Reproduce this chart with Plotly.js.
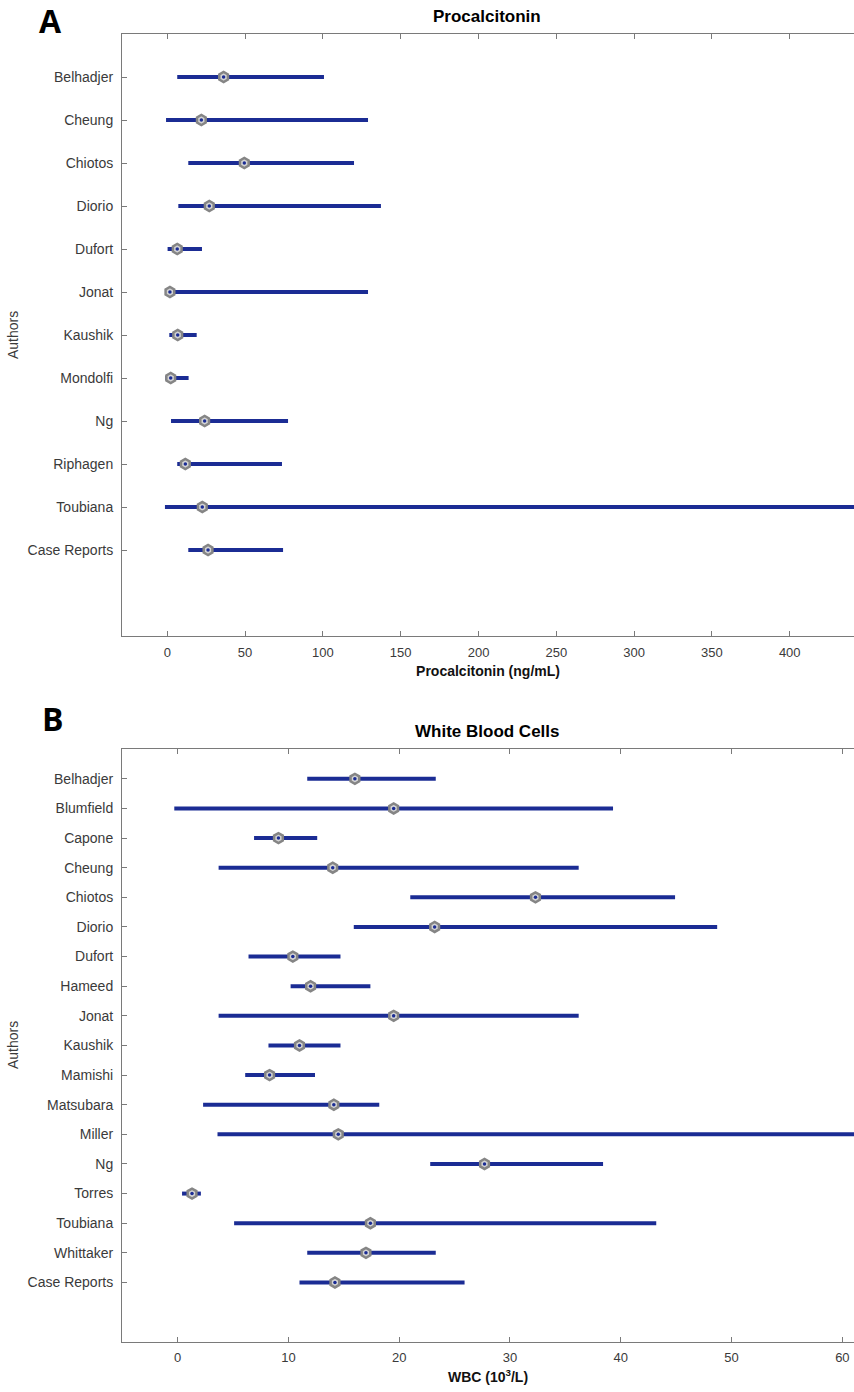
<!DOCTYPE html>
<html>
<head>
<meta charset="utf-8">
<script src="https://cdn.plot.ly/plotly-3.0.1.min.js"></script>
<style>html,body{margin:0;padding:0;background:#fff;}#chart{width:854px;height:1392px;}</style>
</head>
<body>
<div id="chart"></div>
<script>
// Panel A: Procalcitonin (ng/mL)
const catsA = ["Belhadjer","Cheung","Chiotos","Diorio","Dufort","Jonat","Kaushik","Mondolfi","Ng","Riphagen","Toubiana","Case Reports"];
const lowA  = [6.4, -0.8, 13.5, 7.1, 0.2, -1.0, 1.3, -1.3, 2.4, 6.4, -1.5, 13.5];
const medA  = [36.2, 21.9, 49.5, 27.0, 6.4, 1.7, 6.7, 2.2, 24.0, 11.6, 22.5, 26.2];
const highA = [100.7, 129.0, 120.0, 137.3, 22.3, 129.0, 18.9, 13.7, 77.6, 73.7, 480.0, 74.4];
const ticksA = [0, 50, 100, 150, 200, 250, 300, 350, 400];

// Panel B: White blood cells (10^3/L)
const catsB = ["Belhadjer","Blumfield","Capone","Cheung","Chiotos","Diorio","Dufort","Hameed","Jonat","Kaushik","Mamishi","Matsubara","Miller","Ng","Torres","Toubiana","Whittaker","Case Reports"];
const lowB  = [11.7, -0.3, 6.9, 3.7, 21.0, 15.9, 6.4, 10.2, 3.7, 8.2, 6.1, 2.3, 3.6, 22.8, 0.4, 5.1, 11.7, 11.0];
const medB  = [16.0, 19.5, 9.1, 14.0, 32.3, 23.2, 10.4, 12.0, 19.5, 11.0, 8.3, 14.1, 14.5, 27.7, 1.3, 17.4, 17.0, 14.2];
const highB = [23.3, 39.3, 12.6, 36.2, 44.9, 48.7, 14.7, 17.4, 36.2, 14.7, 12.4, 18.2, 70.0, 38.4, 2.1, 43.2, 23.3, 25.9];
const ticksB = [0, 10, 20, 30, 40, 50, 60];

const H = 1392, W = 854, L = 122;
const py = p => 1 - p / H;          // pixel row -> paper y
const px = p => (p - L) / (W - L);  // pixel col -> paper x

const lineCol = '#1b2c94';
const font = 'Liberation Sans, Arial, sans-serif';

function traces(cats, low, med, high, xa, ya) {
  const pos = cats.map((c, i) => i + 1);
  return [
    {
      type: 'scatter', mode: 'markers', x: med, y: pos, xaxis: xa, yaxis: ya,
      error_x: {
        type: 'data', symmetric: false,
        array: high.map((h, i) => h - med[i]),
        arrayminus: low.map((l, i) => med[i] - l),
        color: lineCol, thickness: 4, width: 0
      },
      marker: { symbol: 'hexagon', size: 10, color: '#d4d4d4', line: { color: '#858585', width: 2.5 } },
      hoverinfo: 'x+y', showlegend: false
    },
    {
      type: 'scatter', mode: 'markers', x: med, y: pos, xaxis: xa, yaxis: ya,
      marker: { size: 3.5, color: lineCol }, hoverinfo: 'skip', showlegend: false
    }
  ];
}

const data = [
  ...traces(catsA, lowA, medA, highA, 'x', 'y'),
  ...traces(catsB, lowB, medB, highB, 'x2', 'y2')
];

const axisCommon = {
  showline: true, linecolor: '#7a7a7a', linewidth: 1,
  ticks: 'inside', ticklen: 5, tickcolor: '#7a7a7a',
  showgrid: false, zeroline: false, fixedrange: true
};
const xFont = { family: font, size: 13, color: '#3a3a3a' };
const yFont = { family: font, size: 14, color: '#3a3a3a' };
const xTitleFont = { family: font, size: 14, color: '#111' };

const layout = {
  width: W, height: H,
  margin: { l: L, r: 0, t: 0, b: 0 },
  paper_bgcolor: '#fff', plot_bgcolor: '#fff',
  showlegend: false,
  xaxis: Object.assign({}, axisCommon, {
    domain: [0, 1], anchor: 'y', range: [-29.1, 441.3],
    tickvals: ticksA, mirror: 'ticks', tickfont: xFont, ticklabelstandoff: 4,
    title: { text: '<b>Procalcitonin (ng/mL)</b>', font: xTitleFont, standoff: 7 }
  }),
  yaxis: Object.assign({}, axisCommon, {
    domain: [py(636), py(34)], anchor: 'x', range: [14, 0], autorange: false,
    tickvals: catsA.map((c, i) => i + 1), ticktext: catsA, tickfont: yFont, ticklabelstandoff: 5
  }),
  xaxis2: Object.assign({}, axisCommon, {
    domain: [0, 1], anchor: 'y2', range: [-5.02, 61.05],
    tickvals: ticksB, mirror: 'ticks', tickfont: xFont, ticklabelstandoff: 4,
    title: { text: '<b>WBC (10<sup>3</sup>/L)</b>', font: xTitleFont, standoff: 7 }
  }),
  yaxis2: Object.assign({}, axisCommon, {
    domain: [py(1341.7), py(749.2)], anchor: 'x2', range: [20, 0], autorange: false,
    tickvals: catsB.map((c, i) => i + 1), ticktext: catsB, tickfont: yFont, ticklabelstandoff: 5
  }),
  annotations: [
    { text: '<b>A</b>', xref: 'paper', yref: 'paper', x: px(37), y: py(21), xanchor: 'left', yanchor: 'middle', showarrow: false, font: { family: 'Open Sans, Liberation Sans, sans-serif', size: 32, color: '#000' } },
    { text: '<b>B</b>', xref: 'paper', yref: 'paper', x: px(40), y: py(719), xanchor: 'left', yanchor: 'middle', showarrow: false, font: { family: 'Open Sans, Liberation Sans, sans-serif', size: 32, color: '#000' } },
    { text: '<b>Procalcitonin</b>', xref: 'paper', yref: 'paper', x: px(487), y: py(17), xanchor: 'center', yanchor: 'middle', showarrow: false, font: { family: font, size: 17, color: '#000' } },
    { text: '<b>White Blood Cells</b>', xref: 'paper', yref: 'paper', x: px(487), y: py(731), xanchor: 'center', yanchor: 'middle', showarrow: false, font: { family: font, size: 17, color: '#000' } },
    { text: 'Authors', xref: 'paper', yref: 'paper', x: px(13), y: py(335), xanchor: 'center', yanchor: 'middle', textangle: -90, showarrow: false, font: { family: font, size: 14, color: '#3a3a3a' } },
    { text: 'Authors', xref: 'paper', yref: 'paper', x: px(13), y: py(1045), xanchor: 'center', yanchor: 'middle', textangle: -90, showarrow: false, font: { family: font, size: 14, color: '#3a3a3a' } }
  ]
};

Plotly.newPlot('chart', data, layout, { staticPlot: true, displayModeBar: false });
</script>
</body>
</html>
